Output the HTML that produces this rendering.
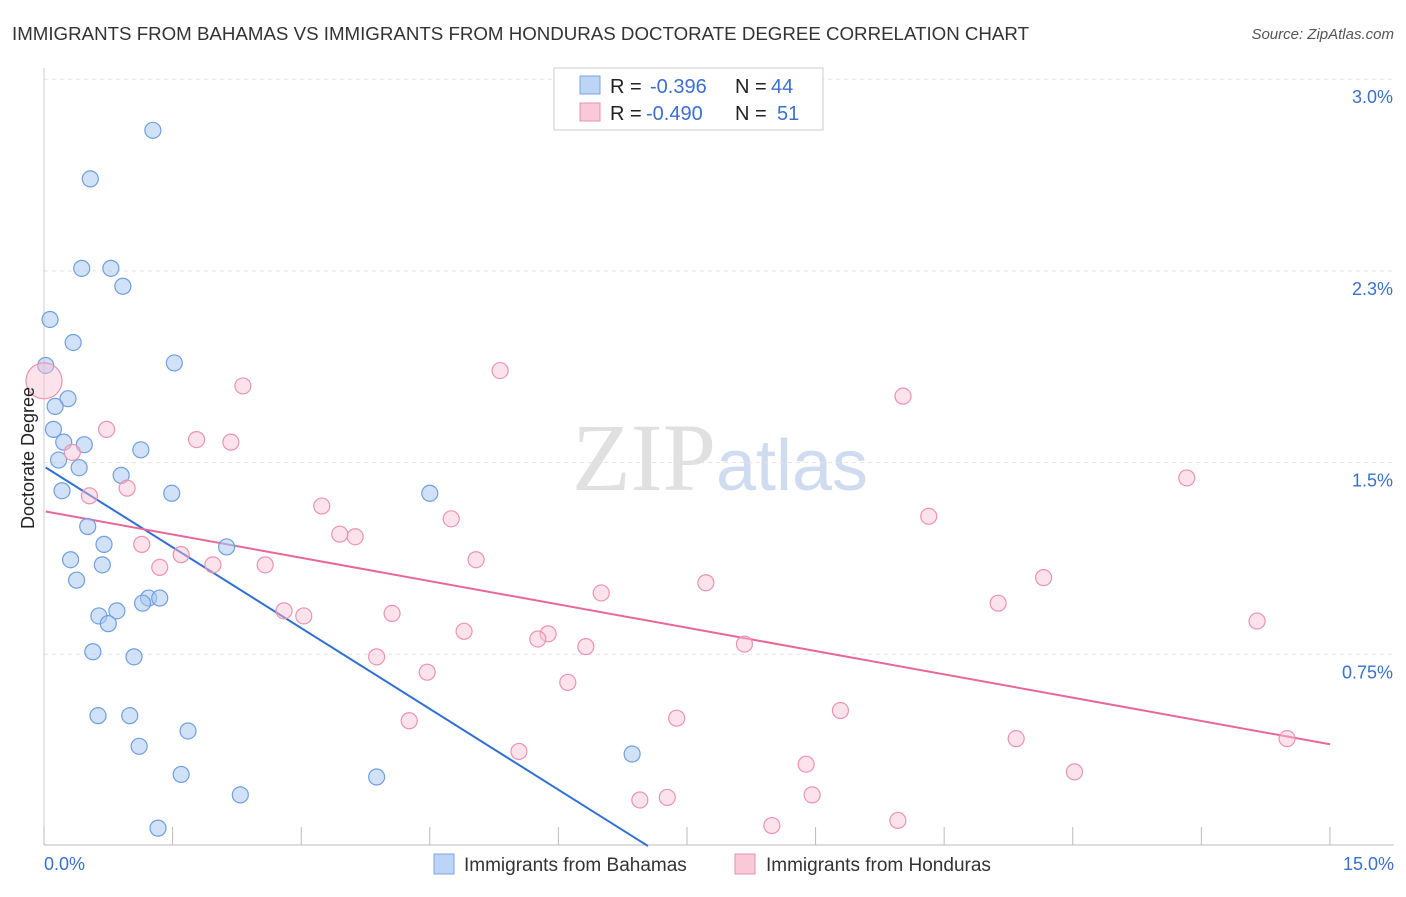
<!DOCTYPE html>
<html><head><meta charset="utf-8">
<style>
body{margin:0;background:#fff;font-family:"Liberation Sans",sans-serif;}
svg text{font-family:"Liberation Sans",sans-serif;}
</style></head>
<body>
<svg width="1406" height="892" viewBox="0 0 1406 892" xmlns="http://www.w3.org/2000/svg">
<text x="12" y="40" font-size="18.5" fill="#333" textLength="1017" lengthAdjust="spacingAndGlyphs">IMMIGRANTS FROM BAHAMAS VS IMMIGRANTS FROM HONDURAS DOCTORATE DEGREE CORRELATION CHART</text>
<text x="1394" y="39" font-size="15" fill="#555" text-anchor="end" font-style="italic">Source: ZipAtlas.com</text>
<text x="720" y="490" font-size="96" text-anchor="middle"><tspan fill="#e0e0e0" font-family="Liberation Serif">ZIP</tspan><tspan fill="#cfdcf0" font-family="Liberation Sans" font-size="72">atlas</tspan></text>
<g id="grid"></g>
<g id="axes"></g>
<g id="trend"></g>
<g id="points"></g>
<text transform="translate(34,458) rotate(-90)" font-size="18" fill="#222" text-anchor="middle">Doctorate Degree</text>
<g>
<rect x="554" y="68" width="269" height="62" fill="#fff" stroke="#ccc"/>
<rect x="580" y="76" width="20" height="18" fill="#bcd4f5" stroke="#7aa6e0"/>
<rect x="580" y="103" width="20" height="18" fill="#f9c9d8" stroke="#e890ad"/>
<text x="610" y="93" font-size="20" fill="#222">R =</text>
<text x="650" y="93" font-size="20" fill="#3a6fd0">-0.396</text>
<text x="735" y="93" font-size="20" fill="#222">N =</text>
<text x="771" y="93" font-size="20" fill="#3a6fd0">44</text>
<text x="610" y="120" font-size="20" fill="#222">R =</text>
<text x="646" y="120" font-size="20" fill="#3a6fd0">-0.490</text>
<text x="735" y="120" font-size="20" fill="#222">N =</text>
<text x="777" y="120" font-size="20" fill="#3a6fd0">51</text>
</g>
<g>
<rect x="434" y="854" width="20" height="20" fill="#bcd4f5" stroke="#7aa6e0"/>
<text x="464" y="871" font-size="19" fill="#333">Immigrants from Bahamas</text>
<rect x="735" y="854" width="20" height="20" fill="#f9c9d8" stroke="#e890ad"/>
<text x="766" y="871" font-size="19" fill="#333">Immigrants from Honduras</text>
</g>
</svg>
<script>
const xTicks=[0,1.5,3,4.5,6,7.5,9,10.5,12,13.5,15];
const yTicks=[0.75,1.5,2.25,3.0];
const yTickLabels=["0.75%","1.5%","2.3%","3.0%"];
const bahamasX=[1.27,0.54,0.44,0.78,0.92,0.07,0.34,1.52,0.02,0.28,0.13,0.11,0.23,0.47,1.13,0.17,0.41,0.90,0.21,1.49,4.50,0.51,0.70,2.13,0.31,0.68,0.38,1.22,1.35,1.15,0.85,0.64,0.75,0.57,1.05,0.63,1.00,1.68,1.11,1.60,3.88,6.86,2.29,1.33];
const bahamasY=[2.80,2.61,2.26,2.26,2.19,2.06,1.97,1.89,1.88,1.75,1.72,1.63,1.58,1.57,1.55,1.51,1.48,1.45,1.39,1.38,1.38,1.25,1.18,1.17,1.12,1.10,1.04,0.97,0.97,0.95,0.92,0.90,0.87,0.76,0.74,0.51,0.51,0.45,0.39,0.28,0.27,0.36,0.20,0.07];
const hondurasX=[0.0,2.32,5.32,10.02,0.73,1.78,2.18,0.33,0.53,0.97,3.24,3.45,3.63,4.75,10.32,13.33,1.14,1.60,1.35,1.97,2.58,5.04,11.66,7.72,6.50,11.13,2.80,3.03,4.06,14.15,4.90,5.88,5.76,6.32,8.17,3.88,4.47,6.11,9.29,7.38,4.26,11.34,5.54,14.50,8.89,12.02,6.95,7.27,8.96,8.49,9.96];
const hondurasY=[1.82,1.80,1.86,1.76,1.63,1.59,1.58,1.54,1.37,1.40,1.33,1.22,1.21,1.28,1.29,1.44,1.18,1.14,1.09,1.10,1.10,1.12,1.05,1.03,0.99,0.95,0.92,0.90,0.91,0.88,0.84,0.83,0.81,0.78,0.79,0.74,0.68,0.64,0.53,0.50,0.49,0.42,0.37,0.42,0.32,0.29,0.18,0.19,0.20,0.08,0.10];
const bahamasTrend=[1.485,-0.2108];
const hondurasTrend=[1.31,-0.0608];
const NS="http://www.w3.org/2000/svg";
const X=v=>44+v*85.73, Y=v=>846-v*255.6;
function mk(t,a,p){const e=document.createElementNS(NS,t);for(const k in a)e.setAttribute(k,a[k]);p.appendChild(e);return e;}
const grid=document.getElementById('grid'),axes=document.getElementById('axes');
yTicks.forEach((t,i)=>{
 const l=mk('line',{x1:44,x2:1394,y1:Y(t),y2:Y(t),stroke:'#e4e4e4','stroke-dasharray':'4,4'},grid);
 
 
 const tx=mk('text',{x:1393,y:Y(t)+24,'font-size':18,fill:'#3a6fd0','text-anchor':'end'},axes);
 tx.textContent=yTickLabels[i];
 
 
});
const xl=mk('line',{x1:44,x2:1394,y1:845,y2:845,stroke:'#bbb'},axes);


const yl=mk('line',{x1:44,x2:44,y1:68,y2:845,stroke:'#ccc'},axes);


xTicks.forEach(t=>{const l=mk('line',{x1:X(t),x2:X(t),y1:827,y2:845,stroke:'#bbb'},axes);
 
 });
const x0=mk('text',{x:44,y:870,'font-size':18,fill:'#3a6fd0'},axes);x0.textContent='0.0%';


const x1=mk('text',{x:1394,y:870,'font-size':18,fill:'#3a6fd0','text-anchor':'end'},axes);x1.textContent='15.0%';


const pts=document.getElementById('points');
bahamasX.forEach((x,i)=>{const c=mk('circle',{cx:X(x),cy:Y(bahamasY[i]),r:8,fill:'rgba(170,200,242,0.55)',stroke:'#6f9fe0','stroke-width':1.2},pts);
 
 });
hondurasX.forEach((x,i)=>{const c=mk('circle',{cx:X(x),cy:Y(hondurasY[i]),r:i==0?18:8,fill:'rgba(248,190,210,0.45)',stroke:'#eb93b1','stroke-width':1.2},pts);
 
 });
const tr=document.getElementById('trend');
const bx2=-bahamasTrend[0]/bahamasTrend[1];
const bl=mk('line',{x1:X(0.02),y1:Y(bahamasTrend[0]+bahamasTrend[1]*0.02),x2:X(bx2),y2:Y(0),stroke:'#2f6fd6','stroke-width':2},tr);


const hl=mk('line',{x1:X(0.02),y1:Y(hondurasTrend[0]+hondurasTrend[1]*0.02),x2:X(15),y2:Y(hondurasTrend[0]+hondurasTrend[1]*15),stroke:'#e8679a','stroke-width':2},tr);


</script>
</body></html>
